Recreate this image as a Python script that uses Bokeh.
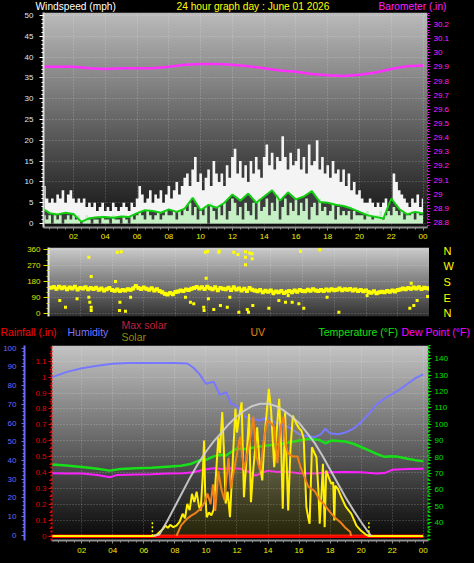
import numpy as np
from bokeh.plotting import figure
from bokeh.layouts import column
from bokeh.models import Range1d, LinearAxis, FixedTicker, GlobalInlineStyleSheet
from bokeh.core.properties import value
from bokeh.embed import file_html
from bokeh.resources import INLINE

FONT = "Liberation Sans"

# ---------------- DATA ----------------
hour_ticks = [2, 4, 6, 8, 10, 12, 14, 16, 18, 20, 22, 24]
hour_labels = ["02", "04", "06", "08", "10", "12", "14", "16", "18", "20", "22", "00"]

# wind (10-minute samples)
wind_hours = [round((i + 1) / 6, 4) for i in range(144)]
gust = [9, 6, 5, 6, 5, 7,  6, 8, 5, 7, 8, 6,  5, 6, 5, 6, 4, 5,  4, 5, 3, 4, 5, 3,
        4, 3, 5, 4, 3, 4,  5, 4, 3, 5, 4, 6,  9, 7, 5, 6, 8, 5,  7, 6, 8, 5, 7, 9,
        6, 8, 10, 7, 9, 11,  12, 9, 13, 16, 10, 12,  8, 11, 13, 9, 15, 12,  10, 12, 9, 14, 11, 16,
        18, 12, 15, 11, 14, 10,  15, 12, 16, 13, 11, 16,  19, 14, 17, 13, 16, 15,  21, 16, 13, 17, 14, 15,
        18, 13, 16, 12, 19, 14,  15, 20, 13, 16, 12, 14,  11, 15, 12, 13, 10, 13,  9, 12, 8, 10, 7, 8,
        6, 5, 5, 6, 5, 4,  5, 4, 5, 6, 4, 5,  12, 10, 8, 7, 6, 5,  4, 6, 5, 7, 4, 6]
speed = [2, 1, 2, 0, 2, 1,  2, 0, 1, 2, 1, 2,  1, 2, 0, 1, 2, 1,  0, 1, 1, 0, 2, 1,
         1, 0, 2, 1, 1, 0,  2, 1, 0, 2, 1, 2,  3, 2, 1, 3, 2, 1,  2, 3, 1, 2, 3, 2,
         2, 3, 1, 3, 2, 4,  3, 5, 2, 4, 1, 3,  2, 4, 0, 5, 3, 1,  4, 2, 5, 1, 3, 6,
         5, 2, 4, 1, 5, 3,  2, 5, 1, 6, 3, 4,  6, 2, 5, 3, 7, 1,  4, 6, 2, 5, 3, 6,
         2, 5, 3, 6, 1, 4,  5, 2, 6, 3, 4, 2,  3, 5, 1, 4, 2, 3,  2, 3, 1, 3, 2, 2,
         2, 1, 3, 2, 1, 2,  2, 3, 1, 2, 3, 2,  4, 3, 2, 3, 1, 2,  2, 3, 1, 3, 2, 2]
avg_hours = [0.1, 0.5, 1.0, 1.5, 2.0, 2.5, 3.0, 3.5, 4.0, 4.5, 5.0, 5.5, 6.0, 6.5, 7.0, 7.5,
             8.0, 8.5, 9.0, 9.5, 10.0, 10.5, 11.0, 11.5, 12.0, 12.5, 13.0, 13.5, 14.0, 14.5,
             15.0, 15.5, 16.0, 16.5, 17.0, 17.5, 18.0, 18.5, 19.0, 19.5, 20.0, 20.5, 21.0,
             21.5, 22.0, 22.5, 23.0, 23.5, 24.0]
avg_wind = [3.5, 2.5, 2.2, 2.6, 2.3, 0.4, 1.3, 1.5, 1.6, 1.4, 1.7, 1.6, 2.5, 3.2, 3.0, 2.6,
            3.4, 2.8, 3.6, 6.2, 3.2, 4.5, 3.8, 5.0, 7.0, 5.5, 7.2, 5.0, 6.5, 8.0,
            5.5, 7.5, 5.8, 6.5, 7.8, 5.2, 5.0, 4.5, 4.2, 3.6, 2.8, 2.0, 1.6,
            1.2, 6.0, 3.5, 2.2, 2.8, 2.4]

baro_hours = [0.1, 1, 2, 3, 4, 5, 6, 7, 8, 9, 10, 11, 12, 13, 14, 15, 16, 17, 18, 19, 20, 21, 22, 23, 24]
barometer = [29.90, 29.90, 29.90, 29.89, 29.885, 29.89, 29.89, 29.89, 29.90, 29.915, 29.92, 29.92,
             29.915, 29.905, 29.89, 29.875, 29.865, 29.85, 29.84, 29.835, 29.845, 29.86, 29.885,
             29.905, 29.91]

# wind direction (10-minute samples) + scattered readings
direction = [146, 150, 140, 152, 143, 148,  138, 147, 142, 151, 136, 145,  141, 149, 137, 144, 139, 146,
             135, 142, 131, 138, 145, 133,  129, 136, 127, 133, 130, 138,  134, 142, 156, 145, 139, 147,
             140, 135, 143, 131, 137, 128,  120, 112, 108, 116, 110, 122,  125, 131, 128, 136, 133, 140,
             145, 150, 141, 148, 139, 151,  143, 137, 148, 132, 145, 140,  138, 146, 133, 149, 136, 142,
             131, 140, 128, 145, 134, 130,  126, 133, 121, 129, 124, 131,  118, 125, 120, 127, 116, 123,
             128, 121, 130, 124, 133, 127,  126, 134, 129, 137, 131, 128,  133, 127, 136, 130, 138, 132,
             135, 141, 132, 138, 134, 139,  131, 136, 128, 133, 126, 130,  122, 118, 126, 115, 121, 124,
             120, 127, 123, 130, 125, 133,  136, 142, 138, 145, 140, 147,  141, 148, 139, 146, 143, 140]
dir_out_hours = [2.54, 2.69, 2.54, 2.6, 2.69, 2.69, 1.07, 0.71, 4.33, 4.58, 4.22, 4.47, 4.5, 4.85,
                 8.94, 9.15, 9.78, 9.8, 9.93, 9.89, 10.03, 10.73, 10.75, 11.67, 11.93, 12.41, 12.68,
                 12.83, 12.41, 12.83, 12.41, 10.41, 10.83, 11.26, 11.99, 12.52, 12.6, 12.87, 13.88,
                 14.51, 14.93, 15.35, 15.77, 15.87, 16.08, 17.09, 18.29, 22.85, 22.76, 23.01, 23.22,
                 23.88, 1.8, 5.17, 8.63, 10.07, 11.42, 14.18, 15.1, 17.55, 20.07]
dir_out = [317, 209, 93, 65, 37, 18, 37, 75, 345, 348, 181, 18, 65, 14,
           65, 56, 37, 18, 199, 345, 350, 345, 352, 345, 332, 348, 340,
           336, 317, 308, 274, 24, 46, 37, 9, 24, 9, 46, 31,
           74, 65, 65, 56, 350, 31, 358, 9, 171, 31, 46, 74,
           97, 84, 93, 93, 84, 93, 112, 103, 93, 103]

# bottom panel
hum_hours = [0.1, 1.0, 2.0, 3.0, 4.0, 5.0, 6.0, 7.0, 8.0, 8.8, 9.2, 9.6, 10.0, 10.5, 10.9, 11.3,
             11.6, 12.0, 12.5, 13.0, 13.5, 14.0, 14.5, 15.0, 15.5, 16.0, 16.5, 17.0, 17.4, 17.7,
             18.0, 18.5, 19.0, 19.5, 20.0, 20.5, 21.0, 21.5, 22.0, 22.5, 23.0, 23.5, 24.0]
humidity = [84.5, 87.2, 89.3, 90.6, 91.6, 92.0, 92.0, 92.0, 92.0, 91.8, 89.5, 86.0, 81.0, 82.0, 75.0, 76.5,
            70.5, 69.0, 63.5, 62.0, 61.5, 63.0, 60.0, 59.0, 57.0, 54.0, 53.0, 52.5, 54.0, 57.0,
            54.5, 54.0, 55.0, 57.0, 60.5, 65.0, 70.0, 73.0, 75.5, 78.0, 81.0, 84.0, 86.0]
temp_hours = [0.1, 1, 2, 3, 3.8, 4.5, 5.5, 6.5, 7.5, 8.4, 9.0, 9.5, 10.0, 10.5, 11.0, 11.3, 11.6,
              12.0, 12.4, 13.0, 13.5, 14.0, 14.5, 15.0, 15.5, 16.0, 16.7, 17.3, 17.7, 18.1, 19.0,
              19.5, 20.0, 20.5, 21.0, 21.5, 22.0, 22.4, 23.0, 23.5, 24.0]
temperature = [75.5, 75.0, 74.0, 73.0, 71.8, 72.8, 73.2, 73.5, 74.2, 74.8, 75.8, 77.8, 78.4, 80.5, 81.5, 81.0, 83.0,
               85.3, 84.8, 85.8, 86.5, 87.2, 87.8, 88.4, 89.2, 90.2, 91.2, 90.5, 88.5, 90.2, 89.5,
               88.2, 86.2, 84.2, 82.0, 80.2, 80.6, 80.2, 79.0, 78.2, 77.6]
dew_hours = [0.1, 1, 2, 3, 3.8, 4.3, 5.5, 6.5, 7.5, 8.5, 9.2, 9.9, 10.5, 11.0, 11.5, 12.2, 12.8,
             13.2, 13.6, 14.0, 14.6, 15.2, 16.0, 17.0, 18.0, 19.0, 20.0, 21.0, 21.5, 22.0, 23.0, 24.0]
dew_point = [70.2, 70.0, 70.0, 69.2, 67.8, 69.2, 69.5, 69.6, 70.0, 70.2, 70.8, 72.5, 73.2, 72.8, 73.2, 73.0, 71.0,
             68.8, 70.5, 71.8, 71.0, 71.2, 70.2, 70.0, 70.8, 71.0, 70.8, 70.0, 70.3, 72.3, 72.8, 72.9]
maxsolar_hours = [6.6, 7.0, 7.5, 8.0, 8.5, 9.0, 9.5, 10.0, 10.5, 11.0, 11.5, 12.0, 12.5, 13.0,
                  13.5, 14.0, 14.5, 15.0, 15.5, 16.0, 16.5, 17.0, 17.5, 18.0, 18.5, 19.0, 19.5,
                  20.0, 20.4, 20.65]
max_solar = [0, 10, 100, 200, 300, 400, 490, 570, 640, 700, 760, 810, 850, 880,
             895, 895, 880, 850, 810, 765, 700, 630, 545, 450, 355, 260, 175,
             95, 35, 0]
solar_hours = [0.05, 6.5, 6.8, 7.0, 7.2, 7.4, 7.55, 7.7, 7.9, 8.1, 8.3, 8.5, 8.65, 8.8, 8.95, 9.1,
               9.25, 9.4, 9.55, 9.66, 9.8, 9.88, 9.95, 10.05, 10.2, 10.35, 10.5, 10.65, 10.8, 10.9,
               11.05, 11.15, 11.27, 11.4, 11.55, 11.7, 11.9, 12.0, 12.1, 12.3, 12.45, 12.6, 12.78,
               12.9, 13.05, 13.3, 13.45, 13.63, 13.8, 14.05, 14.2, 14.4, 14.55, 14.72, 14.85, 14.95,
               15.1, 15.2, 15.3, 15.45, 15.6, 15.83, 16.0, 16.15, 16.3, 16.47, 16.6, 16.68, 16.83,
               17.0, 17.12, 17.25, 17.33, 17.45, 17.54, 17.65, 17.75, 17.9, 18.08, 18.2, 18.27,
               18.33, 18.5, 18.73, 19.0, 19.37, 19.7, 20.0, 20.3, 20.5, 24.0]
solar = [0, 0, 5, 25, 45, 70, 55, 75, 60, 70, 95, 150, 120, 218, 175, 285,
         230, 300, 200, 172, 420, 646, 300, 127, 160, 140, 180, 420, 668, 560,
         838, 600, 220, 300, 127, 450, 860, 700, 781, 905, 262, 500, 826,
         229, 450, 736, 500, 376, 700, 996, 849, 466, 700, 928, 600, 184,
         838, 500, 172, 600, 815, 759, 730, 714, 660, 195, 120, 83, 601,
         560, 533, 300, 83, 300, 488, 60, 443, 400, 353, 364, 105,
         340, 320, 262, 200, 150, 70, 35, 10, 0, 0]
uv_hours = [8.1, 8.4, 8.7, 9.0, 9.3, 9.6, 9.9, 10.1, 10.3, 10.45, 10.6, 10.8, 11.0, 11.2, 11.45,
            11.6, 11.8, 12.0, 12.2, 12.45, 12.7, 12.9, 13.05, 13.25, 13.5, 13.7, 13.95, 14.2, 14.4,
            14.6, 14.8, 15.0, 15.15, 15.3, 15.6, 15.9, 16.1, 16.4, 16.6, 17.0, 17.3, 17.6, 18.0,
            18.3, 18.7, 19.0, 19.3, 19.35]
uv = [0.0, 0.8, 1.2, 1.5, 1.7, 2.0, 2.5, 3.2, 2.4, 3.9, 1.9, 4.9, 3.5, 2.7, 5.9,
      3.6, 4.9, 6.2, 7.5, 5.0, 6.4, 7.7, 9.0, 6.0, 4.9, 7.0, 8.7, 8.5, 8.2,
      5.5, 8.2, 9.0, 6.8, 6.2, 6.0, 6.0, 5.2, 4.3, 3.7, 3.4, 2.8, 2.4, 1.8,
      1.4, 1.0, 0.6, 0.3, 0.0]
rain_hours = [0.05, 1, 2, 3, 4, 5, 6, 7, 8, 9, 10, 11, 12, 13, 14, 15, 16, 17, 18, 19, 20, 21, 22, 23, 24]
rainfall = [0.0, 0.0, 0.0, 0.0, 0.0, 0.0, 0.0, 0.0, 0.0, 0.0, 0.0, 0.0, 0.0, 0.0, 0.0, 0.0, 0.0,
            0.0, 0.0, 0.0, 0.0, 0.0, 0.0, 0.0, 0.0]
sun_events = [6.55, 20.5]   # sunrise / sunset

title_texts = ["Windspeed (mph)", "24 hour graph day : June 01 2026", "Barometer (.in)"]
legend_texts = ["Rainfall (.in)", "Humidity", "Max solar", "Solar", "UV", "Temperature (°F)", "Dew Point (°F)"]


# ---------------- HELPERS ----------------
def gradient(top, bottom, n=160):
    img = np.zeros((n, 1), dtype=np.uint32)
    view = img.view(dtype=np.uint8).reshape((n, 1, 4))
    for i in range(n):
        c = int(round(bottom + (top - bottom) * i / (n - 1)))
        view[i, 0, :] = (c, c, c, 255)
    return img


def add_bg(p, top, bottom):
    xr, yr = p.x_range, p.y_range
    p.image_rgba(image=[gradient(top, bottom)], x=xr.start, y=yr.start,
                 dw=xr.end - xr.start, dh=yr.end - yr.start, level="image")


def style_axis(ax, color, label_color, size="8px", tick_out=4, standoff=4, line_color=None,
               line_dash="solid", line_width=1):
    ax.axis_line_color = line_color if line_color is not None else color
    ax.axis_line_dash = line_dash
    ax.axis_line_width = line_width
    ax.major_tick_line_color = color
    ax.minor_tick_line_color = color
    ax.major_tick_out = tick_out
    ax.major_tick_in = 0
    ax.minor_tick_out = 2
    ax.minor_tick_in = 0
    ax.major_label_text_color = label_color
    ax.major_label_text_font = FONT
    ax.major_label_text_font_size = size
    ax.major_label_standoff = standoff


def style_fig(p):
    p.background_fill_color = "black"
    p.border_fill_color = "black"
    p.outline_line_color = None
    p.frame_align = False


def grid_style(p):
    for g in (p.xgrid, p.ygrid):
        g.grid_line_color = "#ffffff"
        g.grid_line_alpha = 0.3
        g.grid_line_dash = "1 2"


def text_strip(height, xs, ys, texts, colors, size):
    s = figure(width=474, height=height, x_range=Range1d(0, 474), y_range=Range1d(height, 0),
               output_backend="svg", toolbar_location=None, x_axis_location=None,
               y_axis_location=None, min_border_left=0, min_border_right=0,
               min_border_top=0, min_border_bottom=0)
    style_fig(s)
    s.grid.visible = False
    s.text(x=xs, y=ys, text=texts, text_color=colors, text_font=value(FONT),
           text_font_size=value(size), text_baseline="middle")
    return s


hour_overrides = {t: l for t, l in zip(hour_ticks, hour_labels)}
hour_minor = [m / 2 for m in range(0, 50)]

# ---------------- TITLE ROW ----------------
t1 = text_strip(12, [35, 176, 378], [6, 6, 6], title_texts, ["#ffffff", "#ffff00", "#ff20ff"], "10.2px")

# ---------------- PANEL 1: wind + barometer ----------------
p1 = figure(width=474, height=232, x_range=Range1d(0.11, 24.28), y_range=Range1d(-0.95, 50.71),
            output_backend="svg", toolbar_location=None,
            min_border_left=43, min_border_right=47, min_border_top=0, min_border_bottom=17)
style_fig(p1)
p1.extra_y_ranges = {"baro": Range1d(28.765, 30.284)}
add_bg(p1, 0xbb, 0x10)
grid_style(p1)

p1.varea_step(x=wind_hours, y1=0, y2=gust, step_mode="center", fill_color="#f4f4f4")
p1.varea(x=avg_hours, y1=0, y2=avg_wind, fill_color="#000000", fill_alpha=0.75)
p1.varea_step(x=wind_hours, y1=0, y2=speed, step_mode="center", fill_color="#c4f0c4")
p1.line(avg_hours, avg_wind, line_color="#10d010", line_width=2)
p1.line(baro_hours, barometer, y_range_name="baro", line_color="#ff30ff", line_width=2.5)

wind_ticks = list(range(0, 51, 5))
p1.yaxis.ticker = FixedTicker(ticks=wind_ticks, minor_ticks=list(range(0, 51)))
style_axis(p1.yaxis[0], "#ffffff", "#dfe8ff", tick_out=4, standoff=6, line_color="#d8d8d8", line_width=2)

baro_ticks = [round(28.8 + 0.1 * i, 1) for i in range(15)]
baro_ax = LinearAxis(y_range_name="baro",
                     ticker=FixedTicker(ticks=baro_ticks,
                                        minor_ticks=[round(28.78 + 0.02 * i, 2) for i in range(76)]),
                     major_label_overrides={t: f"{t:g}" for t in baro_ticks})
style_axis(baro_ax, "#ff00ff", "#ff20ff", tick_out=3, standoff=3, line_dash="2 2")
p1.add_layout(baro_ax, "right")

p1.xaxis.ticker = FixedTicker(ticks=hour_ticks, minor_ticks=hour_minor)
p1.xaxis.major_label_overrides = hour_overrides
style_axis(p1.xaxis[0], "#909090", "#f0f000", tick_out=3, standoff=3, line_width=2)

# ---------------- PANEL 2: wind direction ----------------
p2 = figure(width=474, height=74, x_range=Range1d(0, 24), y_range=Range1d(-15.1, 371.2),
            output_backend="svg", toolbar_location=None, x_axis_location=None,
            min_border_left=48, min_border_right=45, min_border_top=3, min_border_bottom=2)
style_fig(p2)
add_bg(p2, 0xcc, 0x30)
grid_style(p2)
p2.xgrid.ticker = FixedTicker(ticks=hour_ticks)
p2.line(wind_hours, direction, line_color="#f0f000", line_width=3)
p2.scatter(wind_hours, direction, marker="square", size=4, fill_color="#ffff00", line_color=None)
p2.scatter(dir_out_hours, dir_out, marker="square", size=3, fill_color="#ffff00", line_color=None)

dir_ticks = [0, 90, 180, 270, 360]
p2.yaxis.ticker = FixedTicker(ticks=dir_ticks, minor_ticks=list(range(0, 361, 30)))
style_axis(p2.yaxis[0], "#e0e000", "#e0e000", tick_out=5, standoff=3, line_color="#e8e8e8", line_width=2)
compass = LinearAxis(ticker=FixedTicker(ticks=dir_ticks),
                     major_label_overrides={0: "N", 90: "E", 180: "S", 270: "W", 360: "N"})
style_axis(compass, "#000000", "#ffff00", size="11px", tick_out=0, standoff=14, line_color=None)
compass.major_tick_line_color = None
compass.minor_tick_line_color = None
p2.add_layout(compass, "right")

# ---------------- LEGEND ROW ----------------
t3 = text_strip(27, [0, 67, 121, 121, 250, 318, 401], [13, 13, 6, 18, 13, 13, 13], legend_texts,
                ["#ff0000", "#7878ff", "#c0203f", "#8f8f00", "#e8841a", "#10e010", "#ff00ff"], "10.5px")

# ---------------- PANEL 3: humidity / solar / temperature ----------------
p3 = figure(width=474, height=218, x_range=Range1d(0.05, 24.34), y_range=Range1d(-0.027, 1.199),
            output_backend="svg", toolbar_location=None,
            min_border_left=51, min_border_right=46, min_border_top=0, min_border_bottom=23)
style_fig(p3)
p3.extra_y_ranges = {"hum": Range1d(-2.7, 101.4), "temp": Range1d(29.2, 148.1),
                     "solar": Range1d(-30.4, 1289), "uv": Range1d(-0.34, 14.38)}
add_bg(p3, 0xc4, 0x06)
grid_style(p3)

p3.line(hum_hours, humidity, y_range_name="hum", line_color="#7878ff", line_width=2)
p3.line(temp_hours, temperature, y_range_name="temp", line_color="#18e018", line_width=2.5)
p3.line(dew_hours, dew_point, y_range_name="temp", line_color="#ff20ff", line_width=2)
p3.line(rain_hours, rainfall, line_color="#ff0000", line_width=3.5)
p3.varea(x=solar_hours, y1=0, y2=solar, y_range_name="solar", fill_color="#d8c800", fill_alpha=0.14)
p3.line(solar_hours, solar, y_range_name="solar", line_color="#ffee00", line_width=2)
p3.line(maxsolar_hours, max_solar, y_range_name="solar", line_color="#d0d0d0",
        line_width=2, line_alpha=0.9)
p3.line(uv_hours, uv, y_range_name="uv", line_color="#f08018", line_width=2)
p3.segment(x0=sun_events, y0=[0, 0], x1=sun_events, y1=[0.1, 0.1], line_color="#ffff00",
           line_width=1.5, line_dash="2 2")

rain_ticks = [round(0.1 * i, 1) for i in range(12)]
p3.yaxis.ticker = FixedTicker(ticks=rain_ticks, minor_ticks=[round(0.05 * i, 2) for i in range(24)])
p3.yaxis.major_label_overrides = {t: f"{t:g}" for t in rain_ticks}
style_axis(p3.yaxis[0], "#ff0000", "#e80000", tick_out=3, standoff=2, line_dash="2 2", line_width=2)
p3.yaxis[0].axis_label = " "
p3.yaxis[0].axis_label_text_font_size = "2px"
p3.yaxis[0].axis_label_standoff = 3

hum_ax = LinearAxis(y_range_name="hum",
                    ticker=FixedTicker(ticks=list(range(0, 101, 10)), minor_ticks=list(range(0, 101, 2))))
style_axis(hum_ax, "#6a6aff", "#6a6aff", tick_out=3, standoff=5, line_width=2)
p3.add_layout(hum_ax, "left")

temp_ax = LinearAxis(y_range_name="temp",
                     ticker=FixedTicker(ticks=list(range(40, 141, 10)), minor_ticks=list(range(30, 149, 2))))
style_axis(temp_ax, "#00e000", "#00e000", tick_out=3, standoff=3, line_dash="2 2", line_width=2)
p3.add_layout(temp_ax, "right")

p3.xaxis.ticker = FixedTicker(ticks=hour_ticks, minor_ticks=hour_minor)
p3.xaxis.major_label_overrides = hour_overrides
style_axis(p3.xaxis[0], "#909090", "#f0f000", tick_out=3, standoff=4, line_width=2)

layout = column(t1, p1, p2, t3, p3, spacing=0,
                stylesheets=[GlobalInlineStyleSheet(css="html, body { margin: 0; padding: 0; background: #000; }")])

open("out.html", "w").write(file_html(layout, INLINE))
